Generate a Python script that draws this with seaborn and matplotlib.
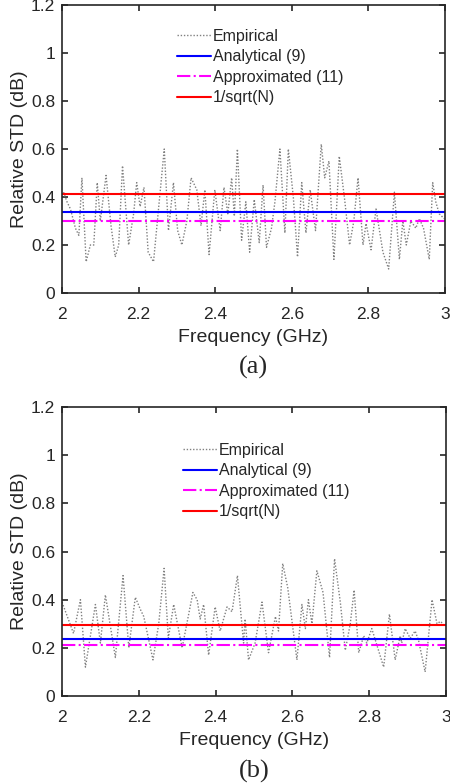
import matplotlib
matplotlib.use('Agg')
import matplotlib.pyplot as plt
import seaborn as sns
import numpy as np
import pandas as pd

# Empirical relative STD (peaks / troughs)
freq_a = [2.004, 2.013, 2.022, 2.035, 2.044, 2.052, 2.063, 2.074, 2.083, 2.092,
          2.100, 2.115, 2.128, 2.139, 2.148, 2.158, 2.174, 2.187, 2.195, 2.204,
          2.214, 2.225, 2.239, 2.252, 2.267, 2.278, 2.291, 2.302, 2.313, 2.326,
          2.337, 2.352, 2.363, 2.373, 2.384, 2.399, 2.413, 2.423, 2.433, 2.443,
          2.450, 2.458, 2.469, 2.480, 2.490, 2.502, 2.515, 2.525, 2.534, 2.547,
          2.556, 2.569, 2.582, 2.591, 2.604, 2.615, 2.626, 2.637, 2.648, 2.662,
          2.677, 2.686, 2.697, 2.710, 2.724, 2.738, 2.751, 2.762, 2.773, 2.786,
          2.794, 2.807, 2.820, 2.838, 2.853, 2.868, 2.881, 2.890, 2.899, 2.911,
          2.924, 2.933, 2.944, 2.959, 2.968, 2.976, 2.985, 2.998]
std_a = [0.42, 0.38, 0.35, 0.27, 0.24, 0.48, 0.13, 0.20, 0.20, 0.46,
         0.30, 0.49, 0.28, 0.15, 0.20, 0.53, 0.20, 0.33, 0.46, 0.36,
         0.44, 0.17, 0.13, 0.35, 0.60, 0.26, 0.46, 0.26, 0.20, 0.30,
         0.48, 0.43, 0.28, 0.43, 0.16, 0.43, 0.26, 0.44, 0.33, 0.48,
         0.32, 0.60, 0.22, 0.38, 0.17, 0.39, 0.21, 0.45, 0.19, 0.27,
         0.38, 0.60, 0.25, 0.60, 0.40, 0.15, 0.46, 0.25, 0.43, 0.26,
         0.62, 0.48, 0.55, 0.14, 0.57, 0.39, 0.20, 0.30, 0.48, 0.20,
         0.29, 0.18, 0.35, 0.17, 0.10, 0.42, 0.14, 0.30, 0.20, 0.30,
         0.27, 0.31, 0.27, 0.14, 0.46, 0.38, 0.33, 0.31]

freq_b = [2.000, 2.030, 2.048, 2.061, 2.087, 2.100, 2.113, 2.139, 2.159, 2.174,
          2.191, 2.204, 2.213, 2.237, 2.252, 2.266, 2.277, 2.291, 2.313, 2.341,
          2.352, 2.360, 2.369, 2.382, 2.399, 2.412, 2.430, 2.443, 2.457, 2.473,
          2.477, 2.486, 2.503, 2.521, 2.538, 2.556, 2.564, 2.575, 2.588, 2.612,
          2.625, 2.634, 2.642, 2.651, 2.664, 2.680, 2.697, 2.710, 2.725, 2.738,
          2.751, 2.761, 2.773, 2.786, 2.794, 2.807, 2.838, 2.853, 2.868, 2.881,
          2.885, 2.894, 2.907, 2.920, 2.929, 2.946, 2.964, 2.977, 2.986, 2.998]
std_b = [0.39, 0.26, 0.40, 0.12, 0.38, 0.22, 0.42, 0.16, 0.50, 0.20,
         0.41, 0.36, 0.33, 0.15, 0.30, 0.53, 0.24, 0.38, 0.20, 0.43,
         0.40, 0.32, 0.38, 0.17, 0.37, 0.27, 0.37, 0.35, 0.50, 0.22,
         0.32, 0.15, 0.22, 0.39, 0.18, 0.33, 0.27, 0.55, 0.45, 0.15,
         0.38, 0.28, 0.40, 0.30, 0.52, 0.43, 0.16, 0.57, 0.39, 0.19,
         0.30, 0.44, 0.18, 0.25, 0.22, 0.28, 0.12, 0.34, 0.15, 0.25,
         0.22, 0.28, 0.24, 0.27, 0.23, 0.10, 0.40, 0.30, 0.31, 0.29]

# constant curves (analytical, approximated, 1/sqrt(N))
analytical = [0.336, 0.236]
approximated = [0.298, 0.210]
inv_sqrt_n = [0.413, 0.296]
panel_tags = ['(a)', '(b)']

sns.set_style('ticks')
plt.rcParams['font.family'] = ['Liberation Sans', 'DejaVu Sans']

fig = plt.figure(figsize=(4.5, 7.84), dpi=100)
positions = [[0.1378, 0.6263, 0.851, 0.3673], [0.1378, 0.1122, 0.853, 0.3687]]
legend_anchor = [(0.301, 0.918), (0.316, 0.877)]

for i, (fx, sx) in enumerate([(freq_a, std_a), (freq_b, std_b)]):
    ax = fig.add_axes(positions[i])
    df = pd.DataFrame({'f': fx, 's': sx})
    sns.lineplot(data=df, x='f', y='s', ax=ax, color='#808080',
                 linestyle=(0, (1, 1.3)), linewidth=1.0, label='Empirical')
    ax.axhline(analytical[i], color='#0000ff', linewidth=1.5, label='Analytical (9)')
    ax.axhline(approximated[i], color='#ff00ff', linewidth=1.5, linestyle='-.',
               label='Approximated (11)')
    ax.axhline(inv_sqrt_n[i], color='#ff0000', linewidth=1.5, label='1/sqrt(N)')

    ax.set_xlim(2, 3)
    ax.set_ylim(0, 1.2)
    ax.set_xticks([2, 2.2, 2.4, 2.6, 2.8, 3])
    ax.set_xticklabels(['2', '2.2', '2.4', '2.6', '2.8', '3'])
    ax.set_yticks([0, 0.2, 0.4, 0.6, 0.8, 1, 1.2])
    ax.set_yticklabels(['0', '0.2', '0.4', '0.6', '0.8', '1', '1.2'])
    ax.tick_params(direction='in', top=True, right=True, labelsize=12.5,
                   length=4, width=1.2, color='#262626')
    ax.tick_params(axis='x', pad=10)
    ax.tick_params(axis='y', pad=5)
    for sp in ax.spines.values():
        sp.set_visible(True)
        sp.set_linewidth(1.2)
        sp.set_color('#262626')
    ax.set_xlabel('Frequency (GHz)', fontsize=14, labelpad=5)
    ax.set_ylabel('Relative STD (dB)', fontsize=14, labelpad=2)

    ax.legend(loc='upper left', bbox_to_anchor=legend_anchor[i], frameon=False,
              fontsize=11.5, handlelength=2.1, handletextpad=0.15,
              labelspacing=0.35, borderaxespad=0.0, borderpad=0.0)

    ax.text(0.5, -0.26, panel_tags[i], transform=ax.transAxes, ha='center',
            va='center', fontsize=19, family='Liberation Serif')

fig.savefig('out.png', dpi=100)
